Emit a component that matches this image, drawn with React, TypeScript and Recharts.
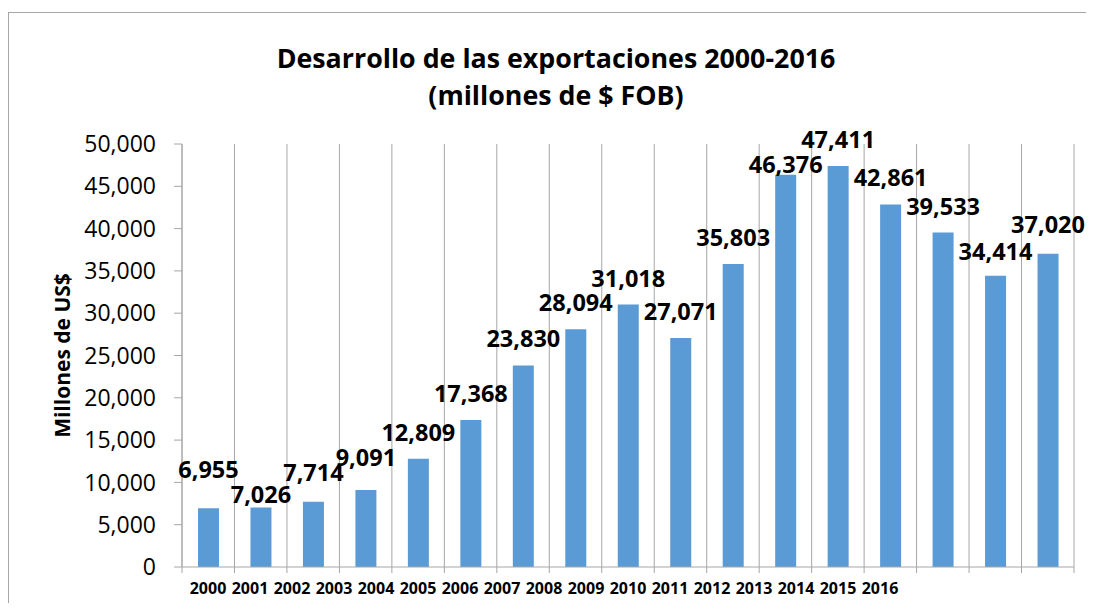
import { BarChart, Bar, XAxis, YAxis, CartesianGrid, LabelList, Label } from 'recharts';

const years = ['2000', '2001', '2002', '2003', '2004', '2005', '2006', '2007', '2008', '2009', '2010', '2011', '2012', '2013', '2014', '2015', '2016'];
const exportsFob = [6955, 7026, 7714, 9091, 12809, 17368, 23830, 28094, 31018, 27071, 35803, 46376, 47411, 42861, 39533, 34414, 37020];
const yTicks = [0, 5000, 10000, 15000, 20000, 25000, 30000, 35000, 40000, 45000, 50000];
// category boundaries: vertical grid lines and the small ticks under the axis
const boundaries = [0, 1, 2, 3, 4, 5, 6, 7, 8, 9, 10, 11, 12, 13, 14, 15, 16, 17];

const FONT = '"Open Sans", "Noto Sans", sans-serif';
const GRAY = '#a6a6a6';

// Excel nudged a few data labels up/down to avoid collisions
const labelLift: Record<string, number> = { '2000': 12, '2001': -13, '2002': 3, '2003': 6, '2011': -16, '2015': -2, '2016': 3 };

const fmt = (v: number) => Number(v).toLocaleString('en-US');

const renderValueLabel = (props: any) => {
  const { x, y, width, value, index } = props;
  const lift = labelLift[years[index]] || 0;
  return (
    <text x={x + width / 2} y={y - 18 - lift} textAnchor="middle" fontSize={23.5} fontWeight={700} fontFamily={FONT} fill="#000">
      {fmt(value)}
    </text>
  );
};

export default function App() {
  const data = years.map((year, i) => ({ year, pos: i + 0.5, value: exportsFob[i] }));

  return (
    <div style={{ position: 'relative', width: 1077, height: 590, marginTop: 4, borderTop: `1px solid ${GRAY}`, borderLeft: `1px solid ${GRAY}`, fontFamily: FONT }}>
      <div style={{ position: 'absolute', left: 0, top: 26, width: 1094, textAlign: 'center', fontWeight: 700, fontSize: 26.8, lineHeight: '37px', color: '#000' }}>
        <div>Desarrollo de las exportaciones 2000-2016</div>
        <div>(millones de $ FOB)</div>
      </div>
      <BarChart width={1077} height={590} data={data} margin={{ top: 131, right: 12, bottom: 0, left: 0 }}>
        <CartesianGrid horizontal={false} vertical stroke={GRAY} />
        <XAxis
          dataKey="pos"
          type="number"
          domain={[0, 17]}
          ticks={boundaries}
          interval={0}
          tickFormatter={() => ''}
          tickSize={6}
          height={6}
          stroke={GRAY}
        />
        <XAxis
          xAxisId="labels"
          dataKey="year"
          interval={0}
          padding={{ left: 5, right: 173 }}
          axisLine={false}
          tickLine={false}
          tickMargin={4}
          height={30}
          tick={{ fill: '#000', fontSize: 16, fontWeight: 700, fontFamily: FONT }}
        />
        <YAxis
          domain={[0, 50000]}
          ticks={yTicks}
          tickFormatter={fmt}
          width={173}
          tickSize={8}
          tickMargin={18}
          stroke={GRAY}
          tick={{ fill: '#000', fontSize: 23, fontFamily: FONT }}
        >
          <Label
            content={(props: any) => {
              const vb = props.viewBox || {};
              const cx = 53;
              const cy = vb.y + vb.height / 2;
              return (
                <text x={cx} y={cy} transform={`rotate(-90 ${cx} ${cy})`} textAnchor="middle" dominantBaseline="central" fontSize={21} fontWeight={700} fontFamily={FONT} fill="#000">
                  Millones de US$
                </text>
              );
            }}
          />
        </YAxis>
        <Bar dataKey="value" fill="#5b9bd5" barSize={21} isAnimationActive={false}>
          <LabelList dataKey="value" content={renderValueLabel} />
        </Bar>
      </BarChart>
    </div>
  );
}
